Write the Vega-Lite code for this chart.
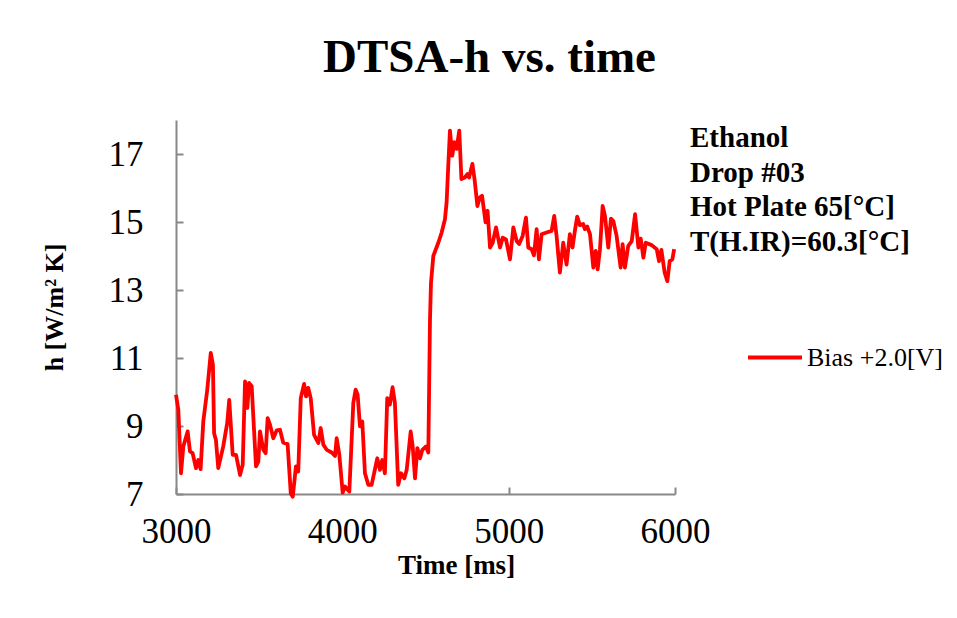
{
  "$schema": "https://vega.github.io/schema/vega-lite/v6.json",
  "autosize": {"type": "none"},
  "width": 499,
  "height": 374,
  "padding": {"left": 176, "top": 120, "right": 282, "bottom": 124},
  "background": "white",
  "title": {
    "text": "DTSA-h vs. time",
    "font": "Liberation Serif",
    "fontSize": 47,
    "fontWeight": "bold",
    "color": "black",
    "anchor": "middle",
    "dx": 64,
    "offset": 38
  },
  "data": {
    "values": [
      {"t": 3000, "h": 9.92}, {"t": 3014, "h": 9.48}, {"t": 3030, "h": 7.61}, {"t": 3044, "h": 8.40},
      {"t": 3070, "h": 8.84}, {"t": 3084, "h": 8.25}, {"t": 3100, "h": 8.20}, {"t": 3120, "h": 7.76},
      {"t": 3134, "h": 8.00}, {"t": 3148, "h": 7.73}, {"t": 3164, "h": 9.13}, {"t": 3188, "h": 10.07},
      {"t": 3209, "h": 11.15}, {"t": 3222, "h": 10.80}, {"t": 3229, "h": 8.79}, {"t": 3240, "h": 8.59},
      {"t": 3254, "h": 7.76}, {"t": 3284, "h": 8.40}, {"t": 3308, "h": 9.09}, {"t": 3320, "h": 9.77},
      {"t": 3341, "h": 8.15}, {"t": 3361, "h": 8.15}, {"t": 3385, "h": 7.56}, {"t": 3401, "h": 7.86},
      {"t": 3415, "h": 10.31}, {"t": 3429, "h": 9.53}, {"t": 3439, "h": 10.27}, {"t": 3455, "h": 10.17},
      {"t": 3481, "h": 7.81}, {"t": 3495, "h": 7.95}, {"t": 3505, "h": 8.84}, {"t": 3525, "h": 8.30},
      {"t": 3539, "h": 8.20}, {"t": 3551, "h": 9.23}, {"t": 3565, "h": 9.04}, {"t": 3585, "h": 8.64},
      {"t": 3605, "h": 8.87}, {"t": 3625, "h": 8.89}, {"t": 3645, "h": 8.51}, {"t": 3671, "h": 8.47},
      {"t": 3690, "h": 7.02}, {"t": 3702, "h": 6.92}, {"t": 3721, "h": 7.81}, {"t": 3735, "h": 7.66},
      {"t": 3750, "h": 9.82}, {"t": 3770, "h": 10.24}, {"t": 3782, "h": 9.87}, {"t": 3795, "h": 10.12},
      {"t": 3810, "h": 9.82}, {"t": 3830, "h": 8.74}, {"t": 3856, "h": 8.50}, {"t": 3870, "h": 8.94},
      {"t": 3886, "h": 8.45}, {"t": 3906, "h": 8.30}, {"t": 3936, "h": 8.22}, {"t": 3956, "h": 8.12},
      {"t": 3966, "h": 8.64}, {"t": 3982, "h": 8.15}, {"t": 4002, "h": 7.04}, {"t": 4016, "h": 7.22},
      {"t": 4042, "h": 7.07}, {"t": 4066, "h": 9.68}, {"t": 4080, "h": 10.07}, {"t": 4092, "h": 9.92},
      {"t": 4106, "h": 8.99}, {"t": 4120, "h": 9.13}, {"t": 4136, "h": 7.61}, {"t": 4156, "h": 7.27},
      {"t": 4176, "h": 7.27}, {"t": 4210, "h": 8.05}, {"t": 4226, "h": 7.71}, {"t": 4240, "h": 8.00},
      {"t": 4256, "h": 7.61}, {"t": 4270, "h": 9.82}, {"t": 4286, "h": 9.63}, {"t": 4302, "h": 10.14},
      {"t": 4316, "h": 9.68}, {"t": 4336, "h": 7.27}, {"t": 4353, "h": 7.61}, {"t": 4373, "h": 7.46},
      {"t": 4387, "h": 7.71}, {"t": 4411, "h": 8.84}, {"t": 4423, "h": 8.40}, {"t": 4437, "h": 7.46},
      {"t": 4451, "h": 8.35}, {"t": 4467, "h": 8.05}, {"t": 4481, "h": 8.30}, {"t": 4503, "h": 8.40},
      {"t": 4517, "h": 8.22}, {"t": 4527, "h": 12.13}, {"t": 4533, "h": 13.21}, {"t": 4547, "h": 14.00},
      {"t": 4577, "h": 14.39}, {"t": 4597, "h": 14.69}, {"t": 4617, "h": 15.08}, {"t": 4627, "h": 15.58},
      {"t": 4636, "h": 16.56}, {"t": 4647, "h": 17.69}, {"t": 4661, "h": 16.95}, {"t": 4673, "h": 17.35},
      {"t": 4687, "h": 17.15}, {"t": 4703, "h": 17.69}, {"t": 4716, "h": 16.26}, {"t": 4736, "h": 16.31},
      {"t": 4752, "h": 16.41}, {"t": 4762, "h": 16.31}, {"t": 4782, "h": 16.71}, {"t": 4796, "h": 16.21},
      {"t": 4812, "h": 15.47}, {"t": 4826, "h": 15.72}, {"t": 4840, "h": 15.77}, {"t": 4861, "h": 14.99},
      {"t": 4873, "h": 15.33}, {"t": 4888, "h": 14.25}, {"t": 4904, "h": 14.39}, {"t": 4924, "h": 14.84},
      {"t": 4948, "h": 14.25}, {"t": 4964, "h": 14.54}, {"t": 4984, "h": 14.49}, {"t": 5008, "h": 13.90},
      {"t": 5028, "h": 14.84}, {"t": 5048, "h": 14.44}, {"t": 5063, "h": 14.35}, {"t": 5084, "h": 14.59},
      {"t": 5104, "h": 15.13}, {"t": 5118, "h": 14.25}, {"t": 5138, "h": 14.20}, {"t": 5152, "h": 14.02},
      {"t": 5168, "h": 14.79}, {"t": 5182, "h": 13.90}, {"t": 5198, "h": 14.64}, {"t": 5228, "h": 14.69},
      {"t": 5258, "h": 14.74}, {"t": 5274, "h": 15.18}, {"t": 5288, "h": 14.59}, {"t": 5308, "h": 13.51},
      {"t": 5328, "h": 14.39}, {"t": 5348, "h": 13.75}, {"t": 5368, "h": 14.64}, {"t": 5384, "h": 14.25},
      {"t": 5398, "h": 14.74}, {"t": 5412, "h": 15.16}, {"t": 5428, "h": 14.91}, {"t": 5448, "h": 14.94},
      {"t": 5458, "h": 14.79}, {"t": 5472, "h": 14.87}, {"t": 5489, "h": 14.64}, {"t": 5509, "h": 13.66},
      {"t": 5523, "h": 14.15}, {"t": 5535, "h": 13.61}, {"t": 5549, "h": 14.20}, {"t": 5565, "h": 15.47},
      {"t": 5579, "h": 15.18}, {"t": 5599, "h": 14.25}, {"t": 5615, "h": 15.10}, {"t": 5629, "h": 15.03},
      {"t": 5649, "h": 14.59}, {"t": 5673, "h": 13.66}, {"t": 5685, "h": 14.35}, {"t": 5699, "h": 13.66},
      {"t": 5719, "h": 14.30}, {"t": 5740, "h": 14.44}, {"t": 5760, "h": 15.23}, {"t": 5780, "h": 14.25},
      {"t": 5794, "h": 14.51}, {"t": 5810, "h": 13.95}, {"t": 5824, "h": 14.39}, {"t": 5860, "h": 14.32},
      {"t": 5890, "h": 14.20}, {"t": 5904, "h": 13.85}, {"t": 5918, "h": 14.18}, {"t": 5938, "h": 13.51},
      {"t": 5954, "h": 13.26}, {"t": 5968, "h": 13.85}, {"t": 5984, "h": 13.90}, {"t": 5995, "h": 14.20}
    ]
  },
  "transform": [{"calculate": "'Bias +2.0[V]'", "as": "series"}],
  "mark": {"type": "line", "strokeWidth": 3.8, "clip": false, "strokeJoin": "round"},
  "encoding": {
    "x": {
      "field": "t",
      "type": "quantitative",
      "scale": {"domain": [3000, 6000], "nice": false, "zero": false},
      "axis": {
        "title": "Time [ms]",
        "values": [3000, 4000, 5000, 6000],
        "format": "d",
        "grid": false,
        "domainColor": "#888888",
        "domainWidth": 2,
        "tickColor": "#888888",
        "tickWidth": 2,
        "tickSize": -7,
        "labelFont": "Liberation Serif",
        "labelFontSize": 35,
        "labelColor": "black",
        "labelPadding": 27,
        "labelFlush": false,
        "titleFont": "Liberation Serif",
        "titleFontSize": 27,
        "titleFontWeight": "bold",
        "titleColor": "black",
        "titlePadding": 3,
        "titleX": 280
      }
    },
    "y": {
      "field": "h",
      "type": "quantitative",
      "scale": {"domain": [7, 18], "nice": false, "zero": false},
      "axis": {
        "title": "h [W/m² K]",
        "values": [7, 9, 11, 13, 15, 17],
        "grid": false,
        "domainColor": "#888888",
        "domainWidth": 2,
        "tickColor": "#888888",
        "tickWidth": 2,
        "tickSize": -7,
        "labelFont": "Liberation Serif",
        "labelFontSize": 35,
        "labelColor": "black",
        "labelPadding": 40,
        "labelFlush": false,
        "titleFont": "Liberation Serif",
        "titleFontSize": 26,
        "titleFontWeight": "bold",
        "titleColor": "black",
        "titlePadding": 41
      }
    },
    "color": {
      "field": "series",
      "type": "nominal",
      "scale": {"range": ["#ff0000"]},
      "legend": {
        "orient": "none",
        "legendX": 514,
        "legendY": 4,
        "title": ["Ethanol", "Drop #03", "Hot Plate 65[°C]", "T(H.IR)=60.3[°C]"],
        "titleFont": "Liberation Serif",
        "titleFontSize": 29,
        "titleFontWeight": "bold",
        "titleColor": "black",
        "titleLineHeight": 34.5,
        "titlePadding": 72,
        "titleLimit": 400,
        "symbolType": "stroke",
        "symbolSize": 2916,
        "symbolStrokeWidth": 3.8,
        "symbolOffset": 56,
        "labelFont": "Liberation Serif",
        "labelFontSize": 26,
        "labelColor": "black",
        "labelOffset": 3,
        "labelLimit": 300
      }
    }
  },
  "config": {
    "view": {"stroke": null}
  }
}
